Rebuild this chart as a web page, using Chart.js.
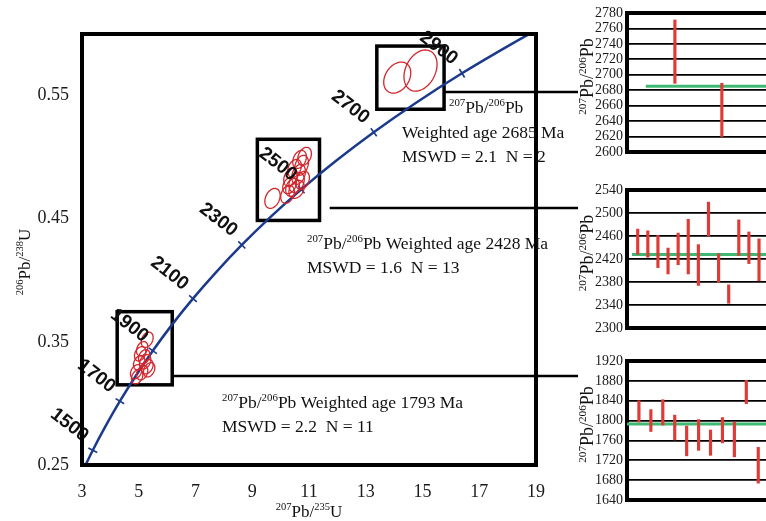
<!DOCTYPE html>
<html>
<head>
<meta charset="utf-8">
<title>U-Pb concordia</title>
<script src="https://cdn.jsdelivr.net/npm/chart.js@4.4.1/dist/chart.umd.min.js"></script>
<style>
  html, body { margin: 0; padding: 0; background: #fff; overflow: hidden; }
  #page { position: relative; width: 766px; height: 521px; }
  canvas { position: absolute; }
</style>
</head>
<body>
<div id="page">
  <canvas id="concordia" width="766" height="521" style="left:0;top:0"></canvas>
  <canvas id="age2685" width="206" height="170" style="left:560px;top:0"></canvas>
  <canvas id="age2428" width="206" height="170" style="left:560px;top:175px"></canvas>
  <canvas id="age1793" width="206" height="176" style="left:560px;top:345px"></canvas>
</div>
<script>
// concordia reference points: age (Ma), 207Pb/235U, 206Pb/238U
const concAges = [1400, 1500, 1600, 1700, 1800, 1900, 2000, 2100, 2200, 2300, 2400, 2500, 2600, 2700, 2800, 2900, 3000, 3050];
const concX = [2.970, 3.381, 3.835, 4.335, 4.887, 5.496, 6.168, 6.910, 7.729, 8.632, 9.629, 10.729, 11.943, 13.282, 14.761, 16.392, 18.193, 19.161];
const concY = [0.2426, 0.2620, 0.2817, 0.3018, 0.3221, 0.3428, 0.3638, 0.3851, 0.4067, 0.4287, 0.4511, 0.4738, 0.4968, 0.5202, 0.5440, 0.5681, 0.5926, 0.6050];
const tickAges = [1500, 1700, 1900, 2100, 2300, 2500, 2700, 2900];

const xTicks = [3, 5, 7, 9, 11, 13, 15, 17, 19];
const yTicks = [0.25, 0.35, 0.45, 0.55];

// analysis ellipses (centre and 1-sigma half widths)
const ell1793X = [5.297, 5.120, 5.191, 5.014, 5.297, 4.908, 5.120, 5.367, 4.943, 5.226, 5.049];
const ell1793Y = [0.3517, 0.3444, 0.3379, 0.3330, 0.3298, 0.3257, 0.3249, 0.3273, 0.3216, 0.3338, 0.3403];
const ell1793SX = [0.21, 0.20, 0.20, 0.20, 0.21, 0.20, 0.20, 0.20, 0.20, 0.20, 0.20];
const ell1793SY = [0.0062, 0.0058, 0.0058, 0.0058, 0.0058, 0.0058, 0.0058, 0.0058, 0.0058, 0.0058, 0.0058];

const ell2428X = [9.714, 10.244, 10.420, 10.562, 10.350, 10.633, 10.491, 10.739, 10.668, 10.845, 10.562, 10.774, 10.314];
const ell2428Y = [0.4665, 0.4698, 0.4755, 0.4795, 0.4836, 0.4860, 0.4909, 0.4934, 0.4982, 0.5007, 0.4738, 0.4812, 0.4771];
const ell2428SX = [0.27, 0.24, 0.24, 0.27, 0.24, 0.24, 0.24, 0.24, 0.24, 0.24, 0.27, 0.24, 0.24];
const ell2428SY = [0.0081, 0.0073, 0.0073, 0.0081, 0.0073, 0.0081, 0.0073, 0.0081, 0.0073, 0.0073, 0.0073, 0.0073, 0.0068];

const ell2685X = [14.11, 14.93];
const ell2685Y = [0.5646, 0.5703];
const ell2685SX = [0.477, 0.583];
const ell2685SY = [0.0126, 0.0167];

// weighted mean results
const weightedAge = [1793, 2428, 2685];
const mswd = [2.2, 1.6, 2.1];
const spots = [11, 13, 2];

// 207Pb/206Pb ages, error bar low / high
const ages2685Lo = [2689, 2620];
const ages2685Hi = [2771, 2689];
const ages2428Lo = [2428, 2423, 2405, 2394, 2410, 2394, 2374, 2460, 2379, 2343, 2426, 2412, 2382];
const ages2428Hi = [2472, 2469, 2461, 2439, 2465, 2489, 2445, 2519, 2429, 2375, 2488, 2467, 2455];
const ages1793Lo = [1797, 1778, 1791, 1761, 1729, 1740, 1730, 1755, 1727, 1834, 1674];
const ages1793Hi = [1840, 1822, 1842, 1811, 1789, 1802, 1781, 1806, 1797, 1881, 1746];

const ticks2685 = [2600, 2620, 2640, 2660, 2680, 2700, 2720, 2740, 2760, 2780];
const ticks2428 = [2300, 2340, 2380, 2420, 2460, 2500, 2540];
const ticks1793 = [1640, 1680, 1720, 1760, 1800, 1840, 1880, 1920];

const NAVY = '#1b3a8c';
const RED = '#d3262c';
const BAR_RED = '#e03a36';
const GREEN = '#3fb874';
const SERIF = '"Liberation Serif", "Times New Roman", serif';
const SANS_BOLD = 'bold 19px "Liberation Sans", Arial, sans-serif';

// text with superscript parts (parts starting with ^ are raised)
function richWidth(ctx, parts, size) {
    let w = 0;
    parts.forEach(p => {
        const sup = p[0] === '^';
        ctx.font = (sup ? size * 0.62 : size) + 'px ' + SERIF;
        w += ctx.measureText(sup ? p.slice(1) : p).width;
    });
    return w;
}

function richText(ctx, parts, x, y, size) {
    ctx.textAlign = 'left';
    ctx.textBaseline = 'alphabetic';
    parts.forEach(p => {
        const sup = p[0] === '^';
        const t = sup ? p.slice(1) : p;
        ctx.font = (sup ? size * 0.62 : size) + 'px ' + SERIF;
        ctx.fillText(t, x, sup ? y - size * 0.4 : y);
        x += ctx.measureText(t).width;
    });
}

function richVertical(ctx, parts, cx, cy, size) {
    const w = richWidth(ctx, parts, size);
    ctx.save();
    ctx.translate(cx, cy);
    ctx.rotate(-Math.PI / 2);
    richText(ctx, parts, -w / 2, size * 0.35, size);
    ctx.restore();
}

function drawEllipse(ctx, xs, ys, cx, cy, sx, sy, rho) {
    ctx.beginPath();
    for (let k = 0; k <= 64; k++) {
        const t = k / 64 * 2 * Math.PI;
        const ex = cx + sx * Math.cos(t);
        const ey = cy + sy * (rho * Math.cos(t) + Math.sqrt(1 - rho * rho) * Math.sin(t));
        const X = xs.getPixelForValue(ex), Y = ys.getPixelForValue(ey);
        if (k === 0) ctx.moveTo(X, Y); else ctx.lineTo(X, Y);
    }
    ctx.closePath();
    ctx.stroke();
}

// frames around each population, in data units, and the leader line leaving them
const frames = [
    { x0: 4.24, x1: 6.18, y0: 0.3151, y1: 0.3745, lineFrom: 6.18, lineY: 0.3224 },
    { x0: 9.18, x1: 11.37, y0: 0.4486, y1: 0.5145, lineFrom: 11.73, lineY: 0.4584 },
    { x0: 13.39, x1: 15.76, y0: 0.5389, y1: 0.5902, lineFrom: 15.76, lineY: 0.5528 }
];

const mainDecor = {
    id: 'mainDecor',
    beforeDatasetsDraw(chart) {
        const { ctx, scales: { x, y } } = chart;
        ctx.save();
        ctx.strokeStyle = '#000';
        ctx.lineWidth = 3.5;
        frames.forEach(f => {
            const l = x.getPixelForValue(f.x0), r = x.getPixelForValue(f.x1);
            const t = y.getPixelForValue(f.y1), b = y.getPixelForValue(f.y0);
            ctx.strokeRect(l, t, r - l, b - t);
        });
        ctx.lineWidth = 2.5;
        frames.forEach(f => {
            const ly = Math.round(y.getPixelForValue(f.lineY));
            ctx.beginPath();
            ctx.moveTo(x.getPixelForValue(f.lineFrom), ly);
            ctx.lineTo(578, ly);
            ctx.stroke();
        });
        ctx.restore();
    },
    afterDatasetsDraw(chart) {
        const { ctx, scales: { x, y } } = chart;
        ctx.save();
        ctx.strokeStyle = RED;
        ctx.lineWidth = 1.3;
        const groups = [
            [ell1793X, ell1793Y, ell1793SX, ell1793SY],
            [ell2428X, ell2428Y, ell2428SX, ell2428SY],
            [ell2685X, ell2685Y, ell2685SX, ell2685SY]
        ];
        groups.forEach(([gx, gy, gsx, gsy]) => {
            gx.forEach((cx, i) => drawEllipse(ctx, x, y, cx, gy[i], gsx[i], gsy[i], 0.3));
        });
        ctx.restore();
    },
    afterDraw(chart) {
        const { ctx, chartArea: a, scales: { x, y } } = chart;
        ctx.save();
        // age labels along the concordia
        ctx.fillStyle = '#111';
        ctx.font = SANS_BOLD;
        ctx.textAlign = 'right';
        ctx.textBaseline = 'alphabetic';
        tickAges.forEach(age => {
            const i = concAges.indexOf(age);
            const px = x.getPixelForValue(concX[i]), py = y.getPixelForValue(concY[i]);
            ctx.save();
            ctx.translate(px - 10, py - 8);
            ctx.rotate(38 * Math.PI / 180);
            ctx.fillText(String(age), 0, 0);
            ctx.restore();
        });

        // plot frame
        ctx.strokeStyle = '#000';
        ctx.lineWidth = 4;
        ctx.strokeRect(a.left, a.top, a.width, a.height);

        // annotations
        ctx.fillStyle = '#111';
        const s = 17.5;
        richText(ctx, ['^207', 'Pb/', '^206', 'Pb'], 449, 113, s);
        richText(ctx, ['Weighted age ' + weightedAge[2] + ' Ma'], 402, 138, s);
        richText(ctx, ['MSWD = ' + mswd[2].toFixed(1) + '  N = ' + spots[2]], 402, 162, s);

        richText(ctx, ['^207', 'Pb/', '^206', 'Pb Weighted age ' + weightedAge[1] + ' Ma'], 307, 249, s);
        richText(ctx, ['MSWD = ' + mswd[1].toFixed(1) + '  N = ' + spots[1]], 307, 273, s);

        richText(ctx, ['^207', 'Pb/', '^206', 'Pb Weighted age ' + weightedAge[0] + ' Ma'], 222, 408, s);
        richText(ctx, ['MSWD = ' + mswd[0].toFixed(1) + '  N = ' + spots[0]], 222, 432, s);

        // axis titles
        richVertical(ctx, ['^206', 'Pb/', '^238', 'U'], 24, 262, 17);
        const xt = ['^207', 'Pb/', '^235', 'U'];
        richText(ctx, xt, 309 - richWidth(ctx, xt, 17) / 2, 517, 17);
        ctx.restore();
    }
};

new Chart(document.getElementById('concordia'), {
    type: 'scatter',
    data: {
        datasets: [
            {
                type: 'line',
                label: 'Concordia',
                data: concX.map((v, i) => ({ x: v, y: concY[i] })),
                borderColor: NAVY,
                borderWidth: 2.5,
                pointRadius: 0,
                cubicInterpolationMode: 'monotone',
                fill: false
            },
            {
                label: 'Age ticks',
                data: tickAges.map(a => {
                    const i = concAges.indexOf(a);
                    return { x: concX[i], y: concY[i] };
                }),
                pointStyle: 'line',
                pointRadius: 5,
                borderColor: NAVY,
                borderWidth: 1.6,
                rotation: (c) => {
                    const xs = c.chart.scales.x, ys = c.chart.scales.y;
                    if (!xs || !ys) return 0;
                    const i = concAges.indexOf(tickAges[c.dataIndex]);
                    const dx = xs.getPixelForValue(concX[i + 1]) - xs.getPixelForValue(concX[i - 1]);
                    const dy = ys.getPixelForValue(concY[i + 1]) - ys.getPixelForValue(concY[i - 1]);
                    return Math.atan2(dy, dx) * 180 / Math.PI + 90;
                }
            }
        ]
    },
    options: {
        responsive: false,
        animation: false,
        layout: { padding: { left: 0, top: 34, right: 230, bottom: 0 } },
        plugins: { legend: { display: false }, tooltip: { enabled: false } },
        scales: {
            x: {
                type: 'linear',
                min: 3,
                max: 19,
                afterBuildTicks: s => { s.ticks = xTicks.map(v => ({ value: v })); },
                afterFit: s => { s.height = 56; },
                grid: { display: false },
                border: { display: false },
                ticks: { padding: 8, color: '#1a1a1a', font: { family: SERIF, size: 18 } }
            },
            y: {
                type: 'linear',
                min: 0.25,
                max: 0.6,
                afterBuildTicks: s => { s.ticks = yTicks.map(v => ({ value: v })); },
                afterFit: s => { s.width = 82; },
                grid: { display: false },
                border: { display: false },
                ticks: {
                    padding: 5,
                    color: '#1a1a1a',
                    font: { family: SERIF, size: 18 },
                    callback: v => v.toFixed(2)
                }
            }
        }
    },
    plugins: [mainDecor]
});

const panelTitle = {
    id: 'panelTitle',
    afterDraw(chart) {
        const { ctx, chartArea: a } = chart;
        ctx.save();
        ctx.fillStyle = '#111';
        richVertical(ctx, ['^207', 'Pb/', '^206', 'Pb'], 27, (a.top + a.bottom) / 2 - 6, 18);
        ctx.restore();
    }
};

function agePanel(id, lows, highs, ticks, mean, meanFrom, xMin, xMax, padTop, padBottom) {
    const last = ticks.length - 1;
    new Chart(document.getElementById(id), {
        type: 'bar',
        data: {
            datasets: [
                {
                    type: 'bar',
                    data: lows.map((lo, i) => ({ x: i + 1, y: [lo, highs[i]] })),
                    backgroundColor: BAR_RED,
                    barThickness: 2.5,
                    order: 0
                },
                {
                    type: 'line',
                    data: [{ x: meanFrom, y: mean }, { x: xMax, y: mean }],
                    borderColor: GREEN,
                    borderWidth: 3,
                    pointRadius: 0,
                    order: 1
                }
            ]
        },
        options: {
            responsive: false,
            animation: false,
            layout: { padding: { left: 0, right: 0, top: padTop, bottom: padBottom } },
            plugins: { legend: { display: false }, tooltip: { enabled: false } },
            scales: {
                x: { type: 'linear', min: xMin, max: xMax, offset: false, display: false },
                y: {
                    min: ticks[0],
                    max: ticks[last],
                    afterBuildTicks: s => { s.ticks = ticks.map(v => ({ value: v })); },
                    afterFit: s => { s.width = 67; },
                    grid: {
                        color: '#000',
                        drawTicks: false,
                        lineWidth: c => (c.index === 0 || c.index === last) ? 4 : 1.8
                    },
                    border: { display: true, color: '#000', width: 4 },
                    ticks: {
                        padding: 4,
                        autoSkip: false,
                        color: '#1a1a1a',
                        font: { family: SERIF, size: 14 },
                        callback: v => String(v)
                    }
                }
            }
        },
        plugins: [panelTitle]
    });
}

agePanel('age2685', ages2685Lo, ages2685Hi, ticks2685, weightedAge[2], 0.38, -0.02, 2.94, 13, 18);
agePanel('age2428', ages2428Lo, ages2428Hi, ticks2428, weightedAge[1], 0.43, -0.06, 13.69, 15, 17);
agePanel('age1793', ages1793Lo, ages1793Hi, ticks1793, weightedAge[0], 0, 0, 11.65, 16, 21);
</script>
</body>
</html>
